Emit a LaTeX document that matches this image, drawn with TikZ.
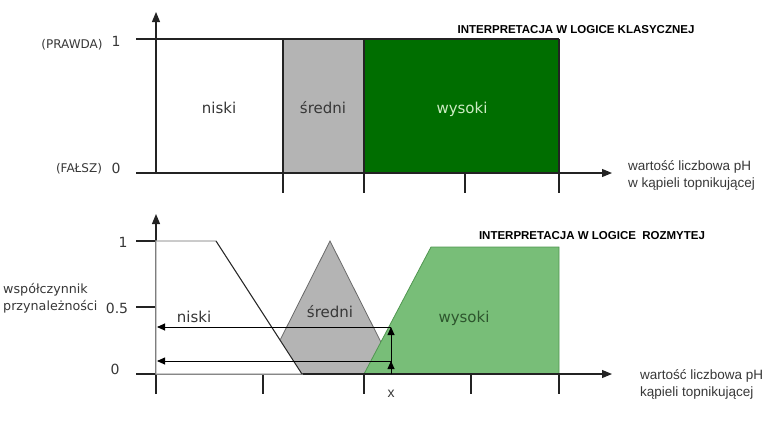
\documentclass[tikz,border=0pt]{standalone}
\usepackage{fontspec}
\setmainfont{DejaVu Sans}
\newfontfamily\arialf{Liberation Sans}
\usetikzlibrary{arrows.meta}
\definecolor{axisc}{RGB}{35,35,35}
\definecolor{boxgray}{RGB}{180,180,180}
\definecolor{darkgreen}{RGB}{0,110,0}
\definecolor{lightgreen}{RGB}{120,190,120}
\definecolor{lgedge}{RGB}{80,150,80}
\definecolor{niskiline}{RGB}{175,175,175}
\definecolor{triedge}{RGB}{105,105,105}
\definecolor{textgray}{RGB}{55,55,55}
\definecolor{wystext}{RGB}{205,235,195}
\definecolor{wysdark}{RGB}{45,85,45}
\begin{document}
\begin{tikzpicture}[x=1pt,y=-1pt,
  axisline/.style={draw=axisc, line width=1.1pt},
  axarrow/.style={axisline, -{Triangle[length=10pt,width=8pt]}},
  readarrow/.style={draw=black, line width=0.9pt, -{Triangle[length=8pt,width=7pt]}},
  setlbl/.style={inner sep=0pt, anchor=base, font=\fontsize{15}{18}\selectfont},
  numlbl/.style={inner sep=0pt, anchor=base, text=textgray, font=\fontsize{14}{16}\selectfont},
  smalllbl/.style={inner sep=0pt, anchor=base, text=textgray, font=\fontsize{12}{14}\selectfont},
  titlelbl/.style={inner sep=0pt, anchor=base, font=\arialf\bfseries\fontsize{11.5}{13}\selectfont},
  xlbl/.style={inner sep=0pt, anchor=base west, align=left, text=textgray, font=\arialf\fontsize{13.5}{17}\selectfont},
  ylbl/.style={inner sep=0pt, anchor=base west, align=left, text=textgray, font=\fontsize{12.7}{17}\selectfont}
]
\useasboundingbox (0,0) rectangle (773,421);

% ---------------- top chart: classical logic ----------------
\coordinate (tO) at (156,173);
\coordinate (tYtip) at (156,12);
\coordinate (tXs) at (136,173);
\coordinate (tXtip) at (612,173);
\coordinate (tOneL) at (136,39);
\coordinate (tA) at (283,39);
\coordinate (tB) at (364,39);
\coordinate (tC) at (559,39);

\fill[boxgray] (283,39) rectangle (364,173);
\fill[darkgreen] (364,39) rectangle (559,173);
\draw[axisline] (tOneL) -- (tA) -- (tB) -- (tC);
\draw[axisline] (tA) -- (283,193);
\draw[axisline] (tB) -- (364,193);
\draw[axisline] (465,173) -- (465,193);
\draw[axisline] (tC) -- (559,193);
\draw[axarrow] (tO) -- (tYtip);
\draw[axarrow] (tXs) -- (tXtip);

\node[smalllbl] (prawda) at (72,48) {(PRAWDA)};
\node[numlbl] (tone) at (116,46) {1};
\node[smalllbl] (falsz) at (79,172) {(FAŁSZ)};
\node[numlbl] (tzero) at (116,173) {0};

\node[setlbl, text=textgray] (tniski) at (219,113) {niski};
\node[setlbl, text=textgray] (tsredni) at (323,113) {średni};
\node[setlbl, text=wystext] (twysoki) at (462,113) {wysoki};

\node[titlelbl] (ttitle) at (576,33) {INTERPRETACJA W LOGICE KLASYCZNEJ};
\node[xlbl] (txlab) at (628,187) {wartość liczbowa pH\\w kąpieli topnikującej};

% ---------------- bottom chart: fuzzy logic ----------------
\coordinate (bO) at (156,374);
\coordinate (bYs) at (156,394);
\coordinate (bYtip) at (156,214);
\coordinate (bXs) at (136,374);
\coordinate (bXtip) at (612,374);

% sredni triangle
\filldraw[fill=boxgray, draw=triedge, line width=0.8pt] (263,374) -- (330,241) -- (397,374) -- cycle;
% wysoki trapezoid
\filldraw[fill=lightgreen, draw=lgedge, line width=0.8pt] (364,374) -- (431,247) -- (559,247) -- (559,374) -- cycle;

% axes and ticks
\draw[axarrow] (bYs) -- (bYtip);
\draw[axarrow] (bXs) -- (bXtip);
\draw[axisline] (136,241) -- (156,241);
\draw[axisline] (136,307) -- (156,307);
\draw[axisline] (263,374) -- (263,394);
\draw[axisline] (364,374) -- (364,394);
\draw[axisline] (471,374) -- (471,394);
\draw[axisline] (559,374) -- (559,394);

% niski trapezoid
\filldraw[fill=white, draw=niskiline, line width=1.1pt] (156,374) -- (156,241) -- (216,241) -- (302,374) -- cycle;
\draw[draw=axisc, line width=0.9pt] (216,241) -- (302,374);

% readout arrows
\coordinate (xpt) at (391,374);
\coordinate (hw) at (391,327);
\coordinate (hs) at (391,361);
\coordinate (aw) at (157,327);
\coordinate (as) at (157,361);
\draw[readarrow] (xpt) -- (hw);
\draw[readarrow] (xpt) -- (hs);
\draw[readarrow] (hw) -- (aw);
\draw[readarrow] (hs) -- (as);

\node[numlbl] (bone) at (123,247) {1};
\node[numlbl] (bhalf) at (117,313) {0.5};
\node[numlbl] (bzero) at (115,374) {0};
\node[ylbl] (ylab) at (3,310) {współczynnik\\przynależności};

\node[setlbl, text=textgray] (bniski) at (194,322) {niski};
\node[setlbl, text=textgray] (bsredni) at (330,317) {średni};
\node[setlbl, text=wysdark] (bwysoki) at (464,322) {wysoki};

\node[inner sep=0pt, anchor=base, font=\arialf\fontsize{14}{16}\selectfont, text=textgray] (xval) at (391,397) {x};

\node[titlelbl] (btitle) at (592,239) {INTERPRETACJA W LOGICE \ ROZMYTEJ};
\node[xlbl] (bxlab) at (640,396) {wartość liczbowa pH\\kąpieli topnikującej};
\end{tikzpicture}
\end{document}
